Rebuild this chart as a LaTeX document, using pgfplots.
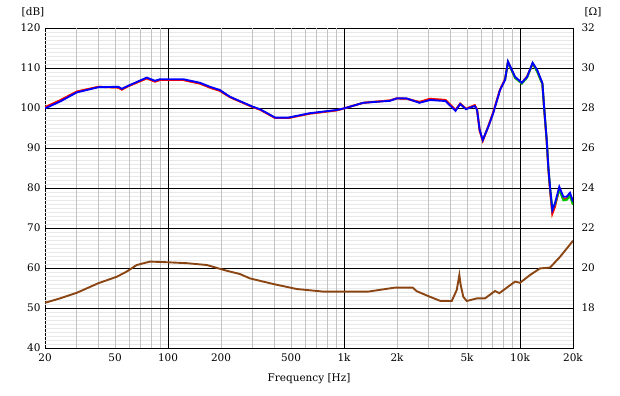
\documentclass[border=0pt]{standalone}
\usepackage{fontspec}
\setmainfont{DejaVu Serif}
\usepackage{pgfplots}
\pgfplotsset{compat=1.18}
\definecolor{imp}{RGB}{139,69,19}
\definecolor{grn}{RGB}{0,200,0}
\definecolor{org}{RGB}{255,150,0}
\pgfplotstableread{
f db
20 99.9
24.3 101.6
30.3 103.9
40.2 105.2
52.2 105.3
54.6 104.8
59 105.5
75.7 107.6
84.3 106.8
90 107.2
122 107.2
152 106.3
173 105.3
197 104.5
225 102.8
304 100.3
333 99.7
406 97.6
482 97.6
640 98.7
906 99.5
1000 99.9
1286 101.3
1826 101.8
1990 102.4
2268 102.4
2680 101.3
3080 102.0
3770 101.75
4300 99.3
4570 101.0
4930 99.7
5530 100.5
5700 99.5
5900 94.5
6140 92.0
6600 95.3
7040 98.7
7700 104.5
8220 107.0
8540 111.6
9370 107.8
10240 106.3
10980 107.8
11790 111.3
12520 109.5
13400 106.2
13700 100.3
14180 92.0
14480 85.3
14800 80.3
15260 74.5
15800 76.2
16720 80.3
17620 77.8
18400 77.8
19220 78.8
20000 76.6
}\blue
\pgfplotstableread{
f db
20 100.2
24.3 101.9
30.3 104.1
40.2 105.3
52.2 105.1
54.6 104.6
59 105.4
75.7 107.4
84.3 106.6
90 107.0
122 107.0
152 106.1
173 105.1
197 104.3
225 102.7
304 100.2
333 99.6
406 97.5
482 97.5
640 98.6
906 99.4
1000 99.9
1286 101.3
1826 101.9
1990 102.4
2268 102.3
2680 101.5
3080 102.3
3770 102.0
4300 99.5
4570 101.1
4930 99.8
5530 100.7
5700 99.6
5900 94.3
6140 91.8
6600 95.4
7040 98.9
7700 104.6
8220 107.2
8540 111.5
9370 107.6
10240 106.2
10980 107.9
11790 111.1
12520 109.2
13400 106.0
13700 100.0
14180 91.6
14480 84.8
14800 79.6
15260 73.6
15800 75.4
16720 79.8
17620 77.2
18400 77.3
19220 78.4
20000 76.0
}\red
\pgfplotstableread{
f db
8220 107.0
8540 111.5
9370 107.5
10240 106.1
10980 107.6
11790 111.2
12520 109.0
13400 106.0
13700 100.2
14180 92.0
14480 85.3
14800 80.3
15260 74.8
15800 76.0
16720 79.6
17620 76.9
18400 77.0
19220 78.0
20000 75.8
}\green
\pgfplotstableread{
f ohm
20 18.26
24.3 18.48
30.3 18.76
40.2 19.24
51.1 19.56
58.2 19.82
66.4 20.15
79 20.32
92 20.30
128 20.24
166 20.15
216 19.86
256 19.70
292 19.48
396 19.20
538 18.95
762 18.82
990 18.82
1374 18.82
1948 19.02
2456 19.02
2588 18.84
3080 18.56
3510 18.36
4092 18.35
4370 18.90
4520 19.65
4600 19.15
4760 18.56
4980 18.35
5680 18.48
6320 18.48
7210 18.85
7620 18.74
8540 19.06
9370 19.32
10000 19.26
11400 19.65
12990 19.98
14800 20.02
16880 20.56
20000 21.36
}\imped
\begin{document}
\begin{tikzpicture}
\useasboundingbox (-45bp,-48bp) rectangle (575bp,348bp);
\begin{axis}[
  at={(0,0)}, anchor=south west, scale only axis,
  width=528bp, height=320bp,
  xmode=log, log basis x=10,
  xmin=20, xmax=20000, ymin=40, ymax=120,
  xtick={20,50,200,500,2000,5000,20000},
  xticklabels={20,50,200,500,2k,5k,20k},
  extra x ticks={100,1000,10000},
  extra x tick labels={100,1k,10k},
  ytick={40,50,...,120},
  major tick length=0pt, minor tick length=0pt,
  axis line style={black, line width=0.7pt},
  tick label style={font=\fontsize{10.5}{12}\selectfont},
  /pgf/number format/assume math mode=true,
  xticklabel style={yshift=-2bp},
  yticklabel style={xshift=-1bp},
  xlabel={Frequency [Hz]},
  xlabel style={font=\fontsize{10.5}{12}\selectfont, yshift=-5bp},
  clip=true,
]
\pgfplotsinvokeforeach{41,42,...,119}{\draw[gray!18, line width=0.6pt] (axis cs:20,#1) -- (axis cs:20000,#1);}
\pgfplotsinvokeforeach{30,40,60,70,80,90,300,400,600,700,800,900,3000,4000,6000,7000,8000,9000,50,200,500,2000,5000}{\draw[gray!48, line width=0.6pt] (axis cs:#1,40) -- (axis cs:#1,120);}
\pgfplotsinvokeforeach{50,60,...,110}{\draw[black, line width=0.7pt] (axis cs:20,#1) -- (axis cs:20000,#1);}
\pgfplotsinvokeforeach{100,1000,10000}{\draw[black, line width=0.7pt] (axis cs:#1,40) -- (axis cs:#1,120);}
\addplot[org, line width=1.9pt] table[x=f,y=db] {\red};
\addplot[red, line width=1.9pt] table[x=f,y=db] {\red};
\addplot[grn, line width=1.9pt] table[x=f,y=db] {\green};
\addplot[blue, line width=1.9pt] table[x=f,y=db] {\blue};
\end{axis}
\begin{axis}[
  at={(0,0)}, anchor=south west, scale only axis,
  width=528bp, height=320bp,
  xmode=log, xmin=20, xmax=20000, ymin=16, ymax=32,
  axis x line=none, axis y line*=right,
  ytick={18,20,...,32},
  major tick length=0pt, minor tick length=0pt,
  axis line style={black, line width=0.7pt},
  tick label style={font=\fontsize{10.5}{12}\selectfont},
  /pgf/number format/assume math mode=true,
  yticklabel style={xshift=5bp},
]
\addplot[imp, line width=1.9pt] table[x=f,y=ohm] {\imped};
\end{axis}
\node[font=\fontsize{10.5}{12}\selectfont] at (-12bp,336bp) {[dB]};
\node[font=\fontsize{10.5}{12}\selectfont] at (548bp,336bp) {[Ω]};
\end{tikzpicture}
\end{document}
